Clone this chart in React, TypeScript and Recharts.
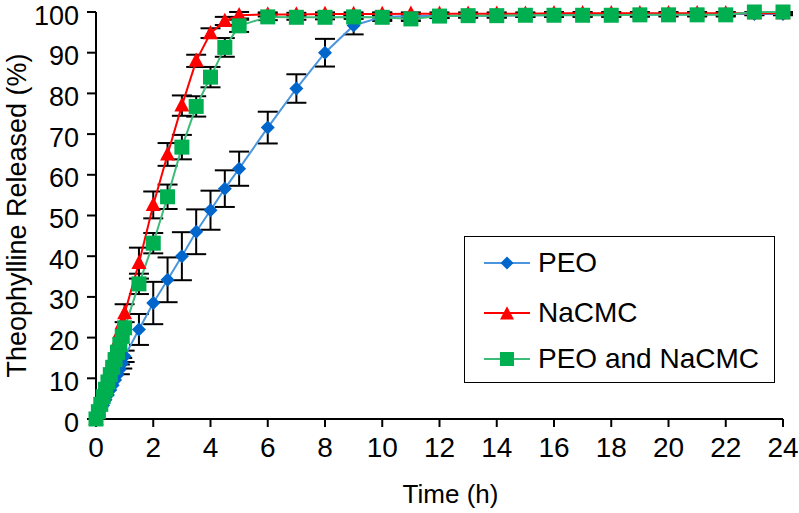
import React from 'react';
import { LineChart, Line, XAxis, YAxis, ErrorBar, Legend, Label } from 'recharts';

// Sampling times (h)
const time = [0, 0.083, 0.167, 0.25, 0.333, 0.417, 0.5, 0.583, 0.667, 0.75, 0.833, 0.917, 1,
  1.5, 2, 2.5, 3, 3.5, 4, 4.5, 5,
  6, 7, 8, 9, 10, 11, 12, 13, 14, 15, 16, 17, 18, 19, 20, 21, 22, 23, 24];

// PEO
const peo = [0, 1.1, 2.3, 3.4, 4.7, 5.9, 7.1, 8.3, 9.6, 10.9, 12.2, 13.7, 15.4,
  22, 28.5, 34.2, 40, 46, 51.3, 56.6, 61.5,
  71.6, 81.2, 90, 96.7, 98.8, 99, 99, 99.1, 99.1, 99.2, 99.2, 99.3, 99.3, 99.3, 99.4, 99.4, 99.5, 99.5, 99.5];
// null = error bar too small to show
const peoErr = [null, null, null, null, null, null, null, null, null, null, 1.2, 1.3, 1.4,
  3.8, 5.2, 5.5, 5.9, 5.5, 4.8, 4.5, 4.2,
  3.9, 3.5, 3.4, 2.2, 1, 0.6, 0.5, 0.5, 0.5, 0.4, 0.4, 0.4, 0.4, 0.4, 0.3, 0.3, 0.3, 0.3, 0.3];

// NaCMC
const nacmc = [0, 2.1, 4.2, 6.2, 8.3, 10.4, 12.4, 14.6, 16.8, 19, 21.3, 23.6, 26,
  38.3, 52.6, 65, 77, 88, 94.8, 97.8, 99.2,
  99.4, 99.4, 99.5, 99.5, 99.5, 99.6, 99.6, 99.6, 99.6, 99.6, 99.7, 99.7, 99.7, 99.7, 99.7, 99.7, 99.7, 99.7, 99.7];
const nacmcErr = [null, null, null, null, null, null, null, null, null, null, null, null, 2.2,
  3.8, 3.3, 2.8, 2.5, 1.5, 1.2, 1, 0.8,
  0.5, 0.4, 0.4, 0.4, 0.4, 0.3, 0.3, 0.3, 0.3, 0.3, 0.3, 0.3, 0.3, 0.3, 0.3, 0.3, 0.3, 0.3, 0.3];

// PEO and NaCMC
const combo = [0, 1.8, 3.6, 5.5, 7.3, 9.1, 10.9, 12.7, 14.6, 16.4, 18.3, 20.3, 22.4,
  33.2, 43.2, 54.6, 66.8, 76.8, 84, 91.3, 96.6,
  98.8, 98.7, 98.7, 98.8, 98.7, 98.3, 99, 99.1, 99.1, 99.2, 99.2, 99.2, 99.2, 99.3, 99.3, 99.3, 99.3, 100, 100];
const comboErr = [null, null, null, null, null, null, null, null, null, null, null, null, null,
  2.5, 2.5, 3, 3, 2.5, 2.5, 2.3, 1.5,
  0.8, 0.6, 0.5, 0.5, 0.5, 0.5, 0.4, 0.4, 0.4, 0.4, 0.4, 0.4, 0.4, 0.4, 0.4, 0.4, 0.4, null, null];

const xTicks = [0, 2, 4, 6, 8, 10, 12, 14, 16, 18, 20, 22, 24];
const yTicks = [0, 10, 20, 30, 40, 50, 60, 70, 80, 90, 100];

const seriesNames = ['PEO', 'NaCMC', 'PEO and NaCMC'];

const data = time.map((t, i) => ({
  t,
  peo: peo[i], peoErr: peoErr[i],
  nacmc: nacmc[i], nacmcErr: nacmcErr[i],
  combo: combo[i], comboErr: comboErr[i],
}));

const FONT = '"Liberation Sans", Arial, Helvetica, sans-serif';
const BLUE = '#0066CC';
const BLUE_LINE = '#4A95DC';
const RED = '#FF0000';
const GREEN = '#00B050';
const GREEN_LINE = '#3DBB78';

const diamondPts = (cx: number, cy: number, r: number) =>
  `${cx},${cy - r} ${cx + r},${cy} ${cx},${cy + r} ${cx - r},${cy}`;
const trianglePts = (cx: number, cy: number, r: number) =>
  `${cx},${cy - r * 1.1} ${cx + r},${cy + r * 0.8} ${cx - r},${cy + r * 0.8}`;

const DiamondDot = (props: any) => {
  const { cx, cy, index } = props;
  if (cx == null || cy == null) return <g key={`pd-${index}`} />;
  return <polygon key={`pd-${index}`} points={diamondPts(cx, cy, 7)} fill={BLUE} />;
};
const TriangleDot = (props: any) => {
  const { cx, cy, index } = props;
  if (cx == null || cy == null) return <g key={`nd-${index}`} />;
  return <polygon key={`nd-${index}`} points={trianglePts(cx, cy, 7.5)} fill={RED} />;
};
const SquareDot = (props: any) => {
  const { cx, cy, index } = props;
  if (cx == null || cy == null) return <g key={`cd-${index}`} />;
  return <rect key={`cd-${index}`} x={cx - 7.5} y={cy - 7.5} width={15} height={15} fill={GREEN} />;
};

const legendRows = [
  { name: seriesNames[0], line: BLUE_LINE, kind: 'diamond', color: BLUE, cy: 26 },
  { name: seriesNames[1], line: RED, kind: 'triangle', color: RED, cy: 76 },
  { name: seriesNames[2], line: GREEN_LINE, kind: 'square', color: GREEN, cy: 122 },
];

const renderLegend = () => (
  <div style={{ position: 'relative', width: 311, height: 147, border: '1.5px solid #000', boxSizing: 'border-box', background: '#fff', fontFamily: FONT }}>
    {legendRows.map((r) => (
      <React.Fragment key={r.name}>
        <svg width={48} height={20} style={{ position: 'absolute', left: 19, top: r.cy - 10 }}>
          <line x1={0} y1={10} x2={46} y2={10} stroke={r.line} strokeWidth={2} />
          {r.kind === 'diamond' && <polygon points={diamondPts(23, 10, 6.5)} fill={r.color} />}
          {r.kind === 'triangle' && <polygon points={trianglePts(23, 11, 7)} fill={r.color} />}
          {r.kind === 'square' && <rect x={16} y={3} width={14} height={14} fill={r.color} />}
        </svg>
        <span style={{ position: 'absolute', left: 73, top: r.cy - 17, lineHeight: '34px', fontSize: 28, color: '#000', whiteSpace: 'nowrap' }}>{r.name}</span>
      </React.Fragment>
    ))}
  </div>
);

const xTickStyle = { fill: '#000', fontSize: 28, fontFamily: FONT };
const yTickStyle = { fill: '#000', fontSize: 27, fontFamily: FONT, dy: 3 };

export default function App() {
  return (
    <div style={{ position: 'absolute', left: 0, top: 0, width: 799, height: 513, background: '#fff' }}>
      <LineChart width={799} height={513} data={data} margin={{ top: 12, right: 16, bottom: 0, left: 0 }}>
        <XAxis
          dataKey="t"
          type="number"
          domain={[0, 24]}
          ticks={xTicks}
          interval={0}
          height={94}
          tick={xTickStyle}
          tickSize={8}
          tickMargin={10}
          axisLine={{ stroke: '#000', strokeWidth: 2 }}
          tickLine={{ stroke: '#000', strokeWidth: 2 }}
        >
          <Label value="Time (h)" position="insideBottom" offset={10} dx={11} style={{ fill: '#000', fontSize: 26, fontFamily: FONT }} />
        </XAxis>
        <YAxis
          type="number"
          domain={[0, 100]}
          ticks={yTicks}
          interval={0}
          width={96}
          tick={yTickStyle}
          tickSize={9}
          tickMargin={8}
          axisLine={{ stroke: '#000', strokeWidth: 2 }}
          tickLine={{ stroke: '#000', strokeWidth: 2 }}
        >
          <Label value="Theophylline Released (%)" angle={-90} position="insideLeft" offset={16} style={{ textAnchor: 'middle', fill: '#000', fontSize: 27, fontFamily: FONT }} />
        </YAxis>
        <Legend layout="vertical" align="center" verticalAlign="middle" content={renderLegend}
          wrapperStyle={{ position: 'absolute', left: 464, top: 236, width: 311, height: 147 }} />
        {/* error bars first so the markers sit on top of them */}
        <Line type="linear" dataKey="peo" stroke="transparent" dot={false} activeDot={false} legendType="none" isAnimationActive={false}>
          <ErrorBar dataKey="peoErr" direction="y" width={10} stroke="#000" strokeWidth={2} />
        </Line>
        <Line type="linear" dataKey="nacmc" stroke="transparent" dot={false} activeDot={false} legendType="none" isAnimationActive={false}>
          <ErrorBar dataKey="nacmcErr" direction="y" width={10} stroke="#000" strokeWidth={2} />
        </Line>
        <Line type="linear" dataKey="combo" stroke="transparent" dot={false} activeDot={false} legendType="none" isAnimationActive={false}>
          <ErrorBar dataKey="comboErr" direction="y" width={10} stroke="#000" strokeWidth={2} />
        </Line>
        <Line type="linear" dataKey="peo" name={seriesNames[0]} stroke={BLUE_LINE} strokeWidth={2} dot={DiamondDot} activeDot={false} isAnimationActive={false} />
        <Line type="linear" dataKey="nacmc" name={seriesNames[1]} stroke={RED} strokeWidth={2} dot={TriangleDot} activeDot={false} isAnimationActive={false} />
        <Line type="linear" dataKey="combo" name={seriesNames[2]} stroke={GREEN_LINE} strokeWidth={2} dot={SquareDot} activeDot={false} isAnimationActive={false} />
      </LineChart>
    </div>
  );
}
